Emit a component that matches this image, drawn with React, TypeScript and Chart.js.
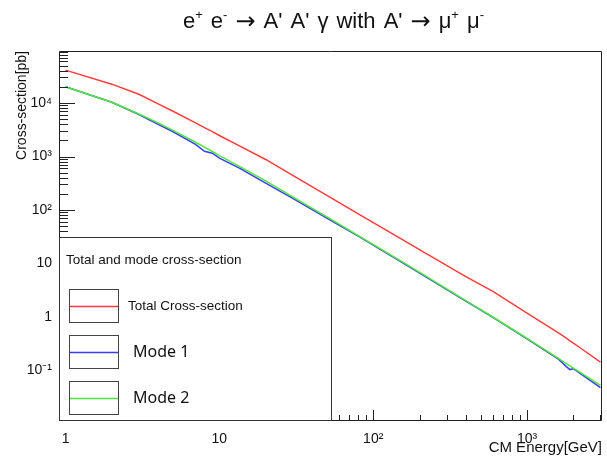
import React, { useEffect, useRef } from 'react';
import { Chart, registerables } from 'chart.js';

Chart.register(...registerables);

// ---- data ----
const energy = [1, 2, 3, 4, 5, 7, 8, 9, 10, 13.5, 20, 30, 55, 80, 150, 220, 400, 600, 1000, 1600, 1800, 1900, 2000, 2200, 3000];
const totalXS = [41200, 22500, 14600, 9650, 7000, 4250, 3470, 2910, 2470, 1580, 880, 445, 160, 85, 29.5, 15.5, 5.7, 3.0, 1.18, 0.507, 0.401, 0.359, 0.324, 0.269, 0.144];
const mode1XS = [20100, 10300, 6100, 4000, 2900, 1680, 1250, 1150, 930, 608, 318, 165, 60, 32.5, 11.0, 5.6, 1.98, 0.98, 0.39, 0.163, 0.118, 0.104, 0.108, 0.089, 0.048];
const mode2XS = [20100, 10300, 6220, 4250, 3080, 1850, 1500, 1240, 1040, 652, 350, 176, 63.5, 33.1, 11.3, 5.8, 2.02, 1.0, 0.4, 0.168, 0.135, 0.122, 0.111, 0.0935, 0.0527];

const seriesNames = ['Total Cross-section', 'Mode 1', 'Mode 2'];
const legendHeader = 'Total and mode cross-section';
// title pieces: k = 'n' normal, 's' superscript, 'a' arrow, 'g' word gap
const chartTitle = [
  { t: 'e', k: 'n' }, { t: '+', k: 's' }, { t: ' ', k: 'g' }, { t: 'e', k: 'n' }, { t: '-', k: 's' }, { t: ' ', k: 'g' },
  { t: '\u2192', k: 'a' }, { t: ' ', k: 'g' }, { t: 'A\'', k: 'n' }, { t: ' ', k: 'g' }, { t: 'A\'', k: 'n' }, { t: ' ', k: 'g' },
  { t: '\u03B3', k: 'n' }, { t: ' ', k: 'g' }, { t: 'with', k: 'n' }, { t: ' ', k: 'g' }, { t: 'A\'', k: 'n' }, { t: ' ', k: 'g' },
  { t: '\u2192', k: 'a' }, { t: ' ', k: 'g' }, { t: '\u03BC', k: 'n' }, { t: '+', k: 's' }, { t: ' ', k: 'g' },
  { t: '\u03BC', k: 'n' }, { t: '-', k: 's' },
];
const TITLE_LEFT = 183;
const TITLE_RIGHT = 484;
const xTitle = 'CM Energy[GeV]';
const yTitle = 'Cross-section[pb]';

const X_MIN = 0.907;
const X_MAX = 3070;
const Y_MIN = 0.01137;
const Y_MAX = 93800;

const RED = '#ff3b3b';
const BLUE = '#3b3bff';
const GREEN = '#4ee83a';

const FONT = '"Liberation Sans", Arial, Helvetica, sans-serif';

const SUP: Record<string, string> = { '0': '\u2070', '1': '\u00B9', '2': '\u00B2', '3': '\u00B3', '4': '\u2074', '5': '\u2075', '6': '\u2076', '7': '\u2077', '8': '\u2078', '9': '\u2079', '-': '\u207B' };

const isPow10 = (v: number) => {
  const l = Math.log10(v);
  return Math.abs(l - Math.round(l)) < 1e-6;
};
const fmtPow = (v: number) => {
  const e = Math.round(Math.log10(v));
  if (e === 0) return '1';
  if (e === 1) return '10';
  return '10' + String(e).split('').map((c) => SUP[c]).join('');
};

const rootDecor = {
  id: 'rootDecor',
  afterDatasetsDraw(chart: any) {
    const { ctx, chartArea, scales } = chart;
    const { left, right, top, bottom } = chartArea;
    const xs = scales.x;
    const ys = scales.y;
    ctx.save();
    ctx.strokeStyle = '#222';
    ctx.lineWidth = 1;
    // frame
    ctx.beginPath();
    ctx.rect(Math.round(left) + 0.5, Math.round(top) + 0.5, Math.round(right - left) - 1, Math.round(bottom - top) - 1);
    ctx.stroke();
    // ticks (inside the frame, ROOT style)
    ctx.beginPath();
    for (let d = -3; d <= 5; d++) {
      for (let m = 1; m <= 9; m++) {
        const v = m * Math.pow(10, d);
        if (v >= Y_MIN && v <= Y_MAX) {
          const py = Math.round(ys.getPixelForValue(v)) + 0.5;
          const len = m === 1 ? 16 : 9;
          ctx.moveTo(left, py);
          ctx.lineTo(left + len, py);
        }
        if (v >= X_MIN && v <= X_MAX) {
          const px = Math.round(xs.getPixelForValue(v)) + 0.5;
          const len = m === 1 ? 11 : 6;
          ctx.moveTo(px, bottom);
          ctx.lineTo(px, bottom - len);
        }
      }
    }
    ctx.stroke();

    // legend
    const lx = Math.round(left), lt = 237, lr = 332, lb = Math.round(bottom);
    ctx.fillStyle = '#ffffff';
    ctx.fillRect(lx, lt, lr - lx, lb - lt);
    ctx.strokeStyle = '#333';
    ctx.strokeRect(lx + 0.5, lt + 0.5, lr - lx - 1, lb - lt - 1);
    ctx.fillStyle = '#111';
    ctx.font = `13.5px ${FONT}`;
    ctx.textBaseline = 'middle';
    ctx.textAlign = 'left';
    ctx.fillText(legendHeader, 66, 260);
    const colors = [RED, BLUE, GREEN];
    const rows = [306, 352, 398];
    rows.forEach((cy, i) => {
      ctx.strokeStyle = '#444';
      ctx.lineWidth = 1;
      ctx.strokeRect(69.5, cy - 16.5, 49, 33);
      ctx.strokeStyle = colors[i];
      ctx.lineWidth = 1.5;
      ctx.beginPath();
      ctx.moveTo(70, cy + 0.5);
      ctx.lineTo(118, cy + 0.5);
      ctx.stroke();
      ctx.fillStyle = '#111';
      if (i === 0) {
        ctx.font = `13.5px ${FONT}`;
        ctx.fillText(seriesNames[i], 128, cy);
      } else {
        ctx.font = `16px "Noto Sans", "Open Sans", sans-serif`;
        ctx.fillText(seriesNames[i], 133, cy);
      }
    });
    ctx.restore();
  },
  afterDraw(chart: any) {
    const { ctx } = chart;
    ctx.save();
    ctx.fillStyle = '#111';
    ctx.textBaseline = 'alphabetic';
    ctx.textAlign = 'left';
    const fonts: Record<string, string> = {
      n: `22px ${FONT}`,
      g: `22px ${FONT}`,
      s: `13px ${FONT}`,
      a: `24px "DejaVu Sans", sans-serif`,
    };
    // natural width of the non-gap pieces; gaps share the rest
    let inked = 0;
    let gaps = 0;
    chartTitle.forEach((seg) => {
      if (seg.k === 'g') { gaps++; return; }
      ctx.font = fonts[seg.k];
      inked += ctx.measureText(seg.t).width;
    });
    const gapW = (TITLE_RIGHT - TITLE_LEFT - inked) / gaps;
    const base = 28;
    let x = TITLE_LEFT;
    chartTitle.forEach((seg) => {
      if (seg.k === 'g') { x += gapW; return; }
      ctx.font = fonts[seg.k];
      const yy = seg.k === 's' ? base - 9 : seg.k === 'a' ? base + 1 : base;
      ctx.fillText(seg.t, x, yy);
      x += ctx.measureText(seg.t).width;
    });
    ctx.restore();
  },
};

export default function App() {
  const ref = useRef<HTMLCanvasElement | null>(null);
  useEffect(() => {
    if (!ref.current) return;
    const mk = (vals: number[]) => energy.map((e, i) => ({ x: e, y: vals[i] }));
    const chart = new Chart(ref.current, {
      type: 'line',
      data: {
        datasets: [
          { label: seriesNames[2], data: mk(mode2XS), borderColor: GREEN, borderWidth: 1.5, pointRadius: 0, tension: 0, fill: false },
          { label: seriesNames[1], data: mk(mode1XS), borderColor: BLUE, borderWidth: 1.5, pointRadius: 0, tension: 0, fill: false },
          { label: seriesNames[0], data: mk(totalXS), borderColor: RED, borderWidth: 1.5, pointRadius: 0, tension: 0, fill: false },
        ],
      },
      options: {
        animation: false,
        responsive: true,
        maintainAspectRatio: false,
        layout: { padding: { top: 51, right: 5, left: 0, bottom: 0 } },
        plugins: { legend: { display: false }, tooltip: { enabled: false }, title: { display: false } },
        scales: {
          x: {
            type: 'logarithmic',
            min: X_MIN,
            max: X_MAX,
            grid: { display: false, drawTicks: false },
            border: { display: false },
            ticks: {
              autoSkip: false,
              maxRotation: 0,
              padding: 10,
              color: '#111',
              font: { family: FONT, size: 14 },
              callback: (v: any) => (isPow10(Number(v)) ? fmtPow(Number(v)) : ''),
            },
            title: {
              display: true,
              text: xTitle,
              align: 'end',
              color: '#111',
              font: { family: FONT, size: 15 },
              padding: { top: 0, bottom: 0 },
            },
            afterFit: (s: any) => { s.height = 36; s.paddingLeft = 0; s.paddingRight = 0; },
          },
          y: {
            type: 'logarithmic',
            min: Y_MIN,
            max: Y_MAX,
            grid: { display: false, drawTicks: false },
            border: { display: false },
            ticks: {
              autoSkip: false,
              padding: 7,
              color: '#111',
              font: { family: FONT, size: 14 },
              callback: (v: any) => (isPow10(Number(v)) ? fmtPow(Number(v)) : ''),
            },
            title: {
              display: true,
              text: yTitle,
              align: 'end',
              color: '#111',
              font: { family: FONT, size: 14 },
              padding: { top: 14, bottom: 0 },
            },
            afterFit: (s: any) => { s.width = 59; s.paddingTop = 0; s.paddingBottom = 0; },
          },
        },
      } as any,
      plugins: [rootDecor],
    });
    return () => chart.destroy();
  }, []);
  return (
    <div style={{ position: 'fixed', left: 0, top: 0, width: 607, height: 457, background: '#fff' }}>
      <canvas ref={ref} />
    </div>
  );
}
